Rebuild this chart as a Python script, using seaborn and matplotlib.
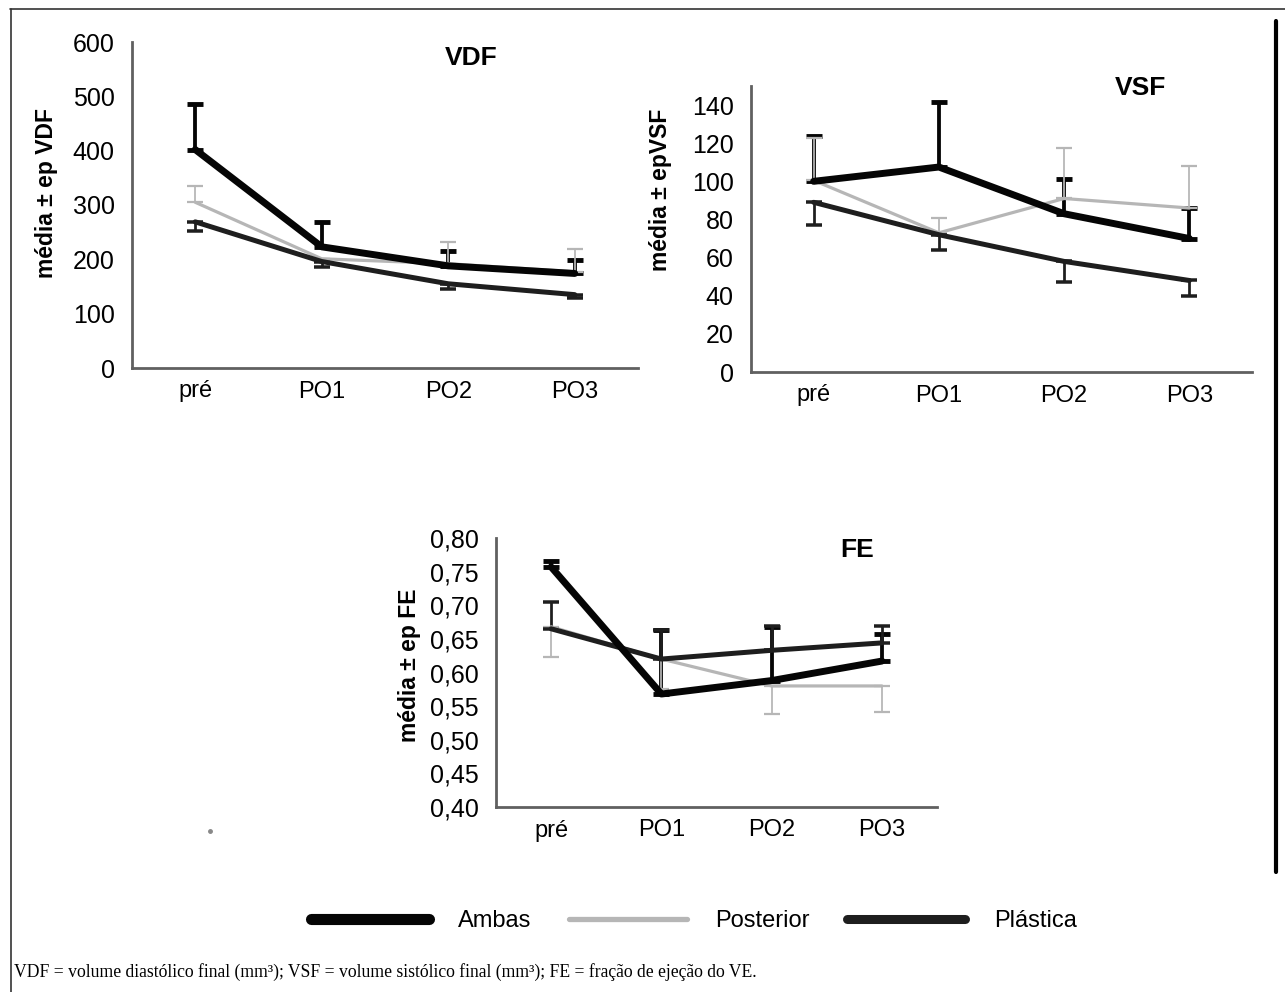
import numpy as np
import pandas as pd
import seaborn as sns
import matplotlib.pyplot as plt
from matplotlib.lines import Line2D
from matplotlib.ticker import FuncFormatter

# --------------------
# Data
# --------------------
CATS = ["pré", "PO1", "PO2", "PO3"]
GROUPS = ["Ambas", "Posterior", "Plástica"]

VDF_AMBAS = [402, 223, 188, 174]
VDF_AMBAS_UP = [83, 46, 28, 24]
VDF_POST = [305, 201, 192, 177]
VDF_POST_UP = [30, 0, 40, 42]
VDF_PLAST = [269, 196, 155, 135]
VDF_PLAST_DN = [17, 11, 9, 7]

VSF_AMBAS = [100, 107.5, 83, 70]
VSF_AMBAS_UP = [24, 34, 18, 16]
VSF_POST = [100.5, 73, 91, 86]
VSF_POST_UP = [22, 8, 26.5, 22]
VSF_PLAST = [89, 72, 58, 48]
VSF_PLAST_DN = [12, 8, 11, 8]

FE_AMBAS = [0.757, 0.568, 0.588, 0.617]
FE_AMBAS_UP = [0.009, 0.095, 0.080, 0.040]
FE_POST = [0.668, 0.620, 0.580, 0.580]
FE_POST_DN = [0.045, 0.045, 0.042, 0.039]
FE_PLAST = [0.665, 0.620, 0.633, 0.644]
FE_PLAST_UP = [0.040, 0.043, 0.036, 0.025]

COLORS = {"Ambas": "#050505", "Posterior": "#b6b6b6", "Plástica": "#1e1e1e"}
WIDTHS = {"Ambas": 5.0, "Posterior": 2.3, "Plástica": 3.6}

W, H = 1285, 992


def fig_rect(x0, x1, y_top, y_bot):
    return [x0 / W, 1 - y_bot / H, (x1 - x0) / W, (y_bot - y_top) / H]


def draw_panel(ax, series, ylim, yticks, ylabel, title, title_xy, label_xy, fmt=None):
    rows = []
    for g, (vals, _, _) in series.items():
        for c, v in zip(CATS, vals):
            rows.append({"tempo": c, "valor": v, "grupo": g})
    df = pd.DataFrame(rows)

    # error bars first, lines over them
    for g, (vals, err, side) in series.items():
        yerr = [np.zeros(4), err] if side == "up" else [err, np.zeros(4)]
        ax.errorbar(range(4), vals, yerr=yerr, fmt="none", ecolor=COLORS[g],
                    elinewidth=WIDTHS[g] * 0.55, capsize=6, capthick=WIDTHS[g] * 0.7, zorder=2)
    for g in ["Posterior", "Plástica", "Ambas"]:
        sub = df[df["grupo"] == g]
        sns.lineplot(data=sub, x="tempo", y="valor", ax=ax, color=COLORS[g],
                     lw=WIDTHS[g], sort=False, legend=False, zorder=3)

    ax.set_xlim(-0.5, 3.5)
    ax.set_ylim(*ylim)
    ax.set_yticks(yticks)
    if fmt:
        ax.yaxis.set_major_formatter(FuncFormatter(fmt))
    ax.set_xticks(range(4))
    ax.set_xticklabels(CATS)
    ax.set_xticks(np.arange(-0.5, 4, 1), minor=True)
    ax.tick_params(axis="x", which="major", length=0, pad=9, labelsize=17, labelcolor="black")
    ax.tick_params(axis="x", which="minor", length=8, width=1.8, direction="inout", color="#606060")
    ax.tick_params(axis="y", length=7, width=1.8, direction="inout", color="#606060",
                   labelsize=18, labelcolor="black", pad=9)
    for s in ["top", "right"]:
        ax.spines[s].set_visible(False)
    for s in ["left", "bottom"]:
        ax.spines[s].set_color("#606060")
        ax.spines[s].set_linewidth(2.0)
    ax.set_xlabel("")
    ax.set_ylabel(ylabel, fontsize=16.5, fontweight="bold", color="black")
    ax.yaxis.set_label_coords(*label_xy)
    ax.text(title_xy[0], title_xy[1], title, transform=ax.transAxes, ha="center",
            va="center", fontsize=19, fontweight="bold", color="black")


def main():
    sns.set_theme(style="white")
    plt.rcParams["font.family"] = ["Liberation Sans", "DejaVu Sans"]
    plt.rcParams["text.color"] = "black"

    fig = plt.figure(figsize=(W / 100, H / 100), dpi=100)

    ax1 = fig.add_axes(fig_rect(132, 638, 42, 368))
    draw_panel(ax1, {"Ambas": (VDF_AMBAS, VDF_AMBAS_UP, "up"),
                     "Posterior": (VDF_POST, VDF_POST_UP, "up"),
                     "Plástica": (VDF_PLAST, VDF_PLAST_DN, "dn")},
               (0, 600), range(0, 601, 100), "média ± ep VDF", "VDF",
               (0.670, 0.951), (-0.147, 0.537))

    ax2 = fig.add_axes(fig_rect(751, 1252, 86, 372))
    draw_panel(ax2, {"Ambas": (VSF_AMBAS, VSF_AMBAS_UP, "up"),
                     "Posterior": (VSF_POST, VSF_POST_UP, "up"),
                     "Plástica": (VSF_PLAST, VSF_PLAST_DN, "dn")},
               (0, 150), range(0, 141, 20), "média ± epVSF", "VSF",
               (0.778, 0.993), (-0.157, 0.636))

    ax3 = fig.add_axes(fig_rect(496, 937, 538, 807))
    draw_panel(ax3, {"Ambas": (FE_AMBAS, FE_AMBAS_UP, "up"),
                     "Posterior": (FE_POST, FE_POST_DN, "dn"),
                     "Plástica": (FE_PLAST, FE_PLAST_UP, "up")},
               (0.40, 0.80), np.arange(0.40, 0.801, 0.05), "média ± ep FE", "FE",
               (0.819, 0.955), (-0.170, 0.528),
               fmt=lambda v, p: f"{v:.2f}".replace(".", ","))

    # legend
    handles = [Line2D([0], [0], color=COLORS["Ambas"], lw=8),
               Line2D([0], [0], color=COLORS["Posterior"], lw=3.8),
               Line2D([0], [0], color=COLORS["Plástica"], lw=6.5)]
    fig.legend(handles, GROUPS, loc="center", bbox_to_anchor=(0.54, 1 - 921 / H),
               ncol=3, frameon=False, fontsize=17, handlelength=5.0,
               handletextpad=1.2, columnspacing=1.6)

    # caption
    fig.text(14 / W, 1 - 972 / H,
             "VDF = volume diastólico final (mm³); VSF = volume sistólico final (mm³); "
             "FE = fração de ejeção do VE.",
             family="Liberation Serif", fontsize=12.7, va="center", ha="left")

    # frame lines and scan speck
    fig.add_artist(Line2D([10 / W, 1], [1 - 9 / H, 1 - 9 / H], color="#333333", lw=1.2))
    fig.add_artist(Line2D([11 / W, 11 / W], [1 - 9 / H, 0], color="#333333", lw=1.2))
    fig.add_artist(Line2D([1276 / W, 1276 / W], [1 - 21 / H, 1 - 872 / H], color="black", lw=3))
    fig.add_artist(Line2D([210 / W], [1 - 831 / H], marker="o", ms=2.5, color="#888888", lw=0))

    fig.savefig("out.png", dpi=100)
    plt.close(fig)


if __name__ == "__main__":
    main()
